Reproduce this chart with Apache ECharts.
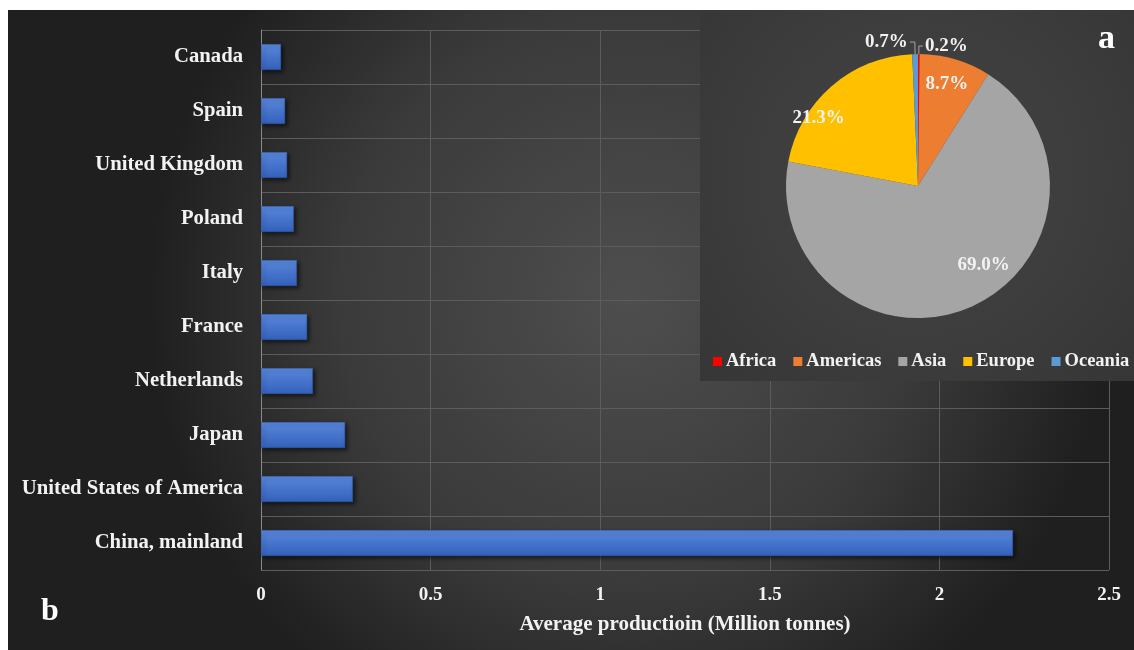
<!DOCTYPE html>
<html>
<head>
<meta charset="utf-8">
<script src="https://cdn.jsdelivr.net/npm/echarts@6/dist/echarts.min.js"></script>
<style>
html,body{margin:0;padding:0;background:#ffffff;}
#chart{width:1134px;height:650px;}
</style>
</head>
<body>
<div id="chart"></div>
<script>
// Bar chart (b) data, listed top to bottom
const countries = ['Canada','Spain','United Kingdom','Poland','Italy','France','Netherlands','Japan','United States of America','China, mainland'];
const production = [0.059, 0.071, 0.077, 0.097, 0.106, 0.136, 0.153, 0.248, 0.271, 2.217];
const xTicks = [0, 0.5, 1, 1.5, 2, 2.5];

// Pie chart (a) data
const regions = ['Africa','Americas','Asia','Europe','Oceania'];
const shares = [0.2, 8.7, 69.0, 21.3, 0.7];
const regionColors = ['#ff0000','#ed7d31','#a5a5a5','#ffc000','#5b9bd5'];

const serif = '"Liberation Serif", "DejaVu Serif", serif';
const chart = echarts.init(document.getElementById('chart'));

const insideSet = {Americas:true, Asia:true, Europe:true};
const labelOffsets = {Americas:[-2,3], Asia:[22,-21], Europe:[-28,14]};

const pieMain = regions.map((r,i)=>{
  const item = {name:r, value:shares[i], itemStyle:{color:regionColors[i]}};
  if (insideSet[r]) {
    item.label = {show:false};
    item.labelLine = {show:false};
  } else {
    item.label = {show:true, position:'outside'};
    item.labelLine = {show:true, length: r==='Oceania'?12:8, length2: r==='Oceania'?5:4};
  }
  return item;
});
const pieLabels = regions.map((r,i)=>({
  name:r, value:shares[i],
  itemStyle:{color:'rgba(0,0,0,0)'},
  label:{show: !!insideSet[r]}
}));

chart.setOption({
  animation:false,
  graphic:[
    {type:'rect', z:-10, silent:true, shape:{x:8,y:10,width:1126,height:640},
     style:{fill:new echarts.graphic.RadialGradient(0.55,0.45,0.75,[
       {offset:0,color:'#4e4e4e'},{offset:0.6,color:'#3a3a3a'},{offset:1,color:'#1f1f1f'}])}},
    {type:'rect', z:50, silent:true, shape:{x:700,y:10,width:434,height:371},
     style:{fill:new echarts.graphic.RadialGradient(0.5,0.45,0.8,[
       {offset:0,color:'#454545'},{offset:1,color:'#363636'}])}},
    {type:'text', z:60, left:1098, top:22, style:{text:'a', fill:'#ffffff', font:'bold 34px '+serif}},
    {type:'text', z:60, left:41, top:596, style:{text:'b', fill:'#ffffff', font:'bold 32px '+serif}}
  ],
  grid:{left:261, right:25, top:30, bottom:80},
  xAxis:{
    type:'value', min:0, max:2.5, interval:0.5,
    axisLine:{show:false}, axisTick:{show:false},
    axisLabel:{color:'#f2f2f2', fontFamily:serif, fontWeight:'bold', fontSize:19, margin:16,
      formatter:(v)=> xTicks.includes(v) ? String(v) : ''},
    splitLine:{show:true, lineStyle:{color:'#5c5c5c', width:1}},
    name:'Average productioin (Million tonnes)', nameLocation:'middle', nameGap:44,
    nameTextStyle:{color:'#f2f2f2', fontFamily:serif, fontWeight:'bold', fontSize:21}
  },
  yAxis:{
    type:'category', data:countries, inverse:true,
    axisLine:{show:true, lineStyle:{color:'#8a8a8a', width:1}},
    axisTick:{show:false},
    axisLabel:{color:'#f2f2f2', fontFamily:serif, fontWeight:'bold', fontSize:20.7, margin:18},
    splitLine:{show:true, lineStyle:{color:'#5c5c5c', width:1}}
  },
  legend:{
    data:regions, left:708, top:347, width:700, z:60, itemWidth:9, itemHeight:9, itemGap:17, icon:'rect',
    textStyle:{color:'#f2f2f2', fontFamily:serif, fontWeight:'bold', fontSize:18.5, padding:[0,0,0,-1]},
    selectedMode:false
  },
  series:[
    {
      type:'bar', data:production, barWidth:'48%', z:2,
      itemStyle:{
        color:new echarts.graphic.LinearGradient(0,0,0,1,[
          {offset:0,color:'#5a88dc'},{offset:0.5,color:'#4674cc'},{offset:1,color:'#3461bb'}]),
        borderColor:'#2f5aa8', borderWidth:0.5,
        shadowColor:'rgba(0,0,0,0.6)', shadowBlur:4, shadowOffsetX:2, shadowOffsetY:2
      }
    },
    {
      type:'pie', center:[918,186], radius:132, z:55, startAngle:90, clockwise:true,
      avoidLabelOverlap:false, silent:true, data:pieMain,
      label:{color:'#f2f2f2', fontFamily:serif, fontWeight:'bold', fontSize:19,
        formatter:(p)=>p.value.toFixed(1)+'%', distanceToLabelLine:2},
      labelLine:{lineStyle:{color:'#a5a5a5', width:1}},
      itemStyle:{borderWidth:0}
    },
    {
      type:'pie', center:[918,186], radius:[80,132], z:56, startAngle:90, clockwise:true,
      avoidLabelOverlap:false, silent:true, data:pieLabels,
      label:{position:'inside', color:'#f2f2f2', fontFamily:serif, fontWeight:'bold', fontSize:19,
        formatter:(p)=>p.value.toFixed(1)+'%'},
      labelLine:{show:false},
      labelLayout:(params)=>{
        const o = labelOffsets[regions[params.dataIndex]];
        return o ? {dx:o[0], dy:o[1]} : {};
      }
    }
  ]
});
</script>
</body>
</html>
